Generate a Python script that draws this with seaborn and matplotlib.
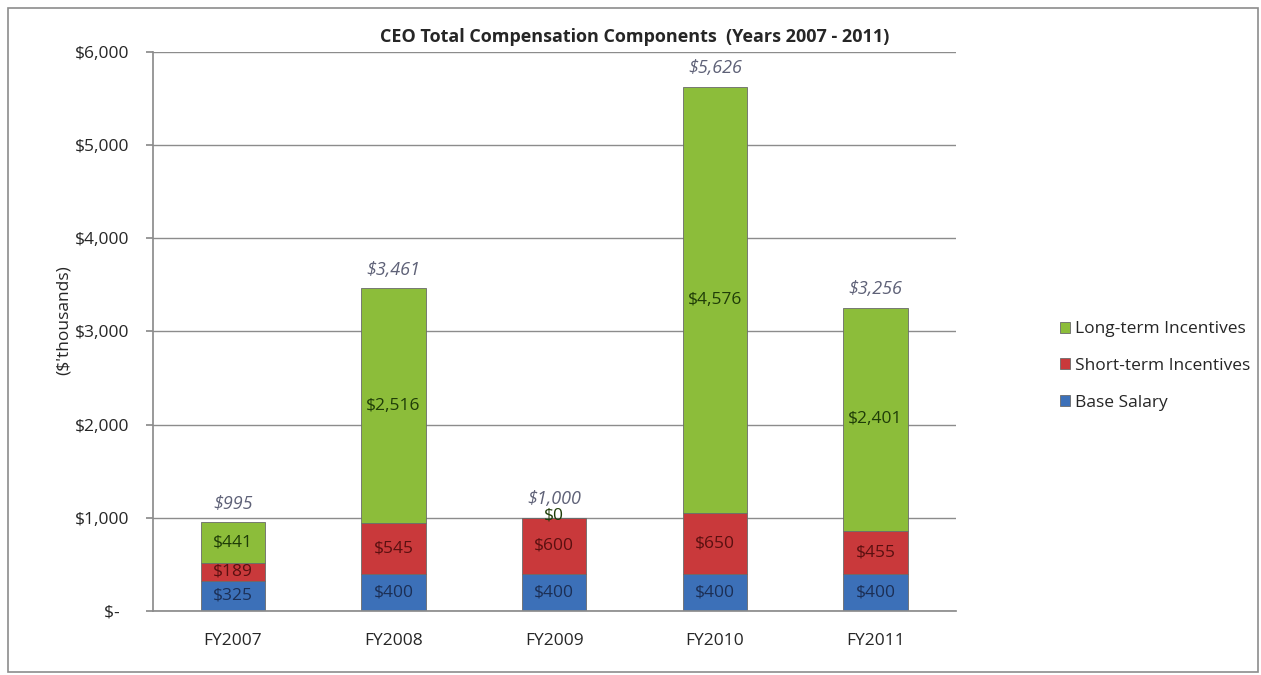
import pandas as pd
import matplotlib.pyplot as plt
from matplotlib.patches import Rectangle
import seaborn as sns

years = ["FY2007", "FY2008", "FY2009", "FY2010", "FY2011"]
base_salary = [325, 400, 400, 400, 400]
short_term = [189, 545, 600, 650, 455]
long_term = [441, 2516, 0, 4576, 2401]
total_labels = ["$995", "$3,461", "$1,000", "$5,626", "$3,256"]

sns.set_theme(style="white")
plt.rcParams['font.family'] = ['Open Sans', 'DejaVu Sans']

df = pd.DataFrame({"Year": years, "Base Salary": base_salary,
                   "Short-term Incentives": short_term,
                   "Long-term Incentives": long_term})

fig = plt.figure(figsize=(12.61, 6.75), dpi=100)
fig.patches.append(Rectangle((0.006, 0.004), 0.992, 0.984, transform=fig.transFigure,
                             fill=False, edgecolor="#8c8c8c", linewidth=1.2))
ax = fig.add_axes([0.121, 0.095, 0.637, 0.828])

comps = ["Base Salary", "Short-term Incentives", "Long-term Incentives"]
colors = {"Base Salary": "#3c70b8", "Short-term Incentives": "#c9393b",
          "Long-term Incentives": "#8cbd3a"}
text_colors = {"Base Salary": "#1c2f55", "Short-term Incentives": "#5a1010",
               "Long-term Incentives": "#1f3d08"}

bottom = pd.Series([0] * len(years))
for c in comps:
    sns.barplot(data=df, x="Year", y=c, bottom=bottom, color=colors[c], width=0.4,
                saturation=1, edgecolor="#6a6a6a", linewidth=0.6, label=c, ax=ax)
    for i, v in enumerate(df[c]):
        y = bottom[i] + v / 2
        if v == 0:
            y = bottom[i] + 25
        ax.text(i, y, f"${v:,}", ha="center", va="center", fontsize=12.5,
                color=text_colors[c])
    bottom = bottom + df[c]

for i, t in enumerate(total_labels):
    ax.text(i, bottom[i] + 100, t, ha="center", va="bottom", fontsize=13,
            style="italic", color="#5e6177")

ax.set_ylim(0, 6000)
ax.set_xlim(-0.5, 4.5)
ax.set_yticks(range(0, 6001, 1000))
ax.set_yticklabels(["$-\u00a0\u00a0"] + [f"${v:,}" for v in range(1000, 6001, 1000)],
                   fontsize=12.5)
ax.set_xticks(range(5))
ax.set_xticklabels(years, fontsize=12.5)
ax.set_xticks([-0.5, 0.5, 1.5, 2.5, 3.5, 4.5], minor=True)
ax.tick_params(axis="x", which="major", length=0, pad=16)
ax.tick_params(axis="x", which="minor", length=4, color="#8c8c8c", direction="out")
ax.tick_params(axis="y", length=5, color="#8c8c8c", direction="out", left=True, pad=12)
ax.set_xlabel("")
ax.set_ylabel("($'thousands)", fontsize=12.5, labelpad=1)
ax.yaxis.set_label_coords(-0.101, 0.52)
ax.yaxis.grid(True, color="#8c8c8c", linewidth=1)
ax.set_axisbelow(True)
for s in ["top", "right"]:
    ax.spines[s].set_visible(False)
for s in ["left", "bottom"]:
    ax.spines[s].set_color("#8c8c8c")
fig.text(635 / 1261, 1 - 37 / 675, "CEO Total Compensation Components  (Years 2007 - 2011)",
         ha="center", va="center", fontsize=13, fontweight="bold")

handles, labels = ax.get_legend_handles_labels()
ax.legend(handles[::-1], labels[::-1], loc="center left", bbox_to_anchor=(1.11, 0.438),
          frameon=False, fontsize=12.5, handlelength=0.6, handleheight=0.6,
          handletextpad=0.3, labelspacing=1.2)

fig.savefig("out.png", dpi=100)
